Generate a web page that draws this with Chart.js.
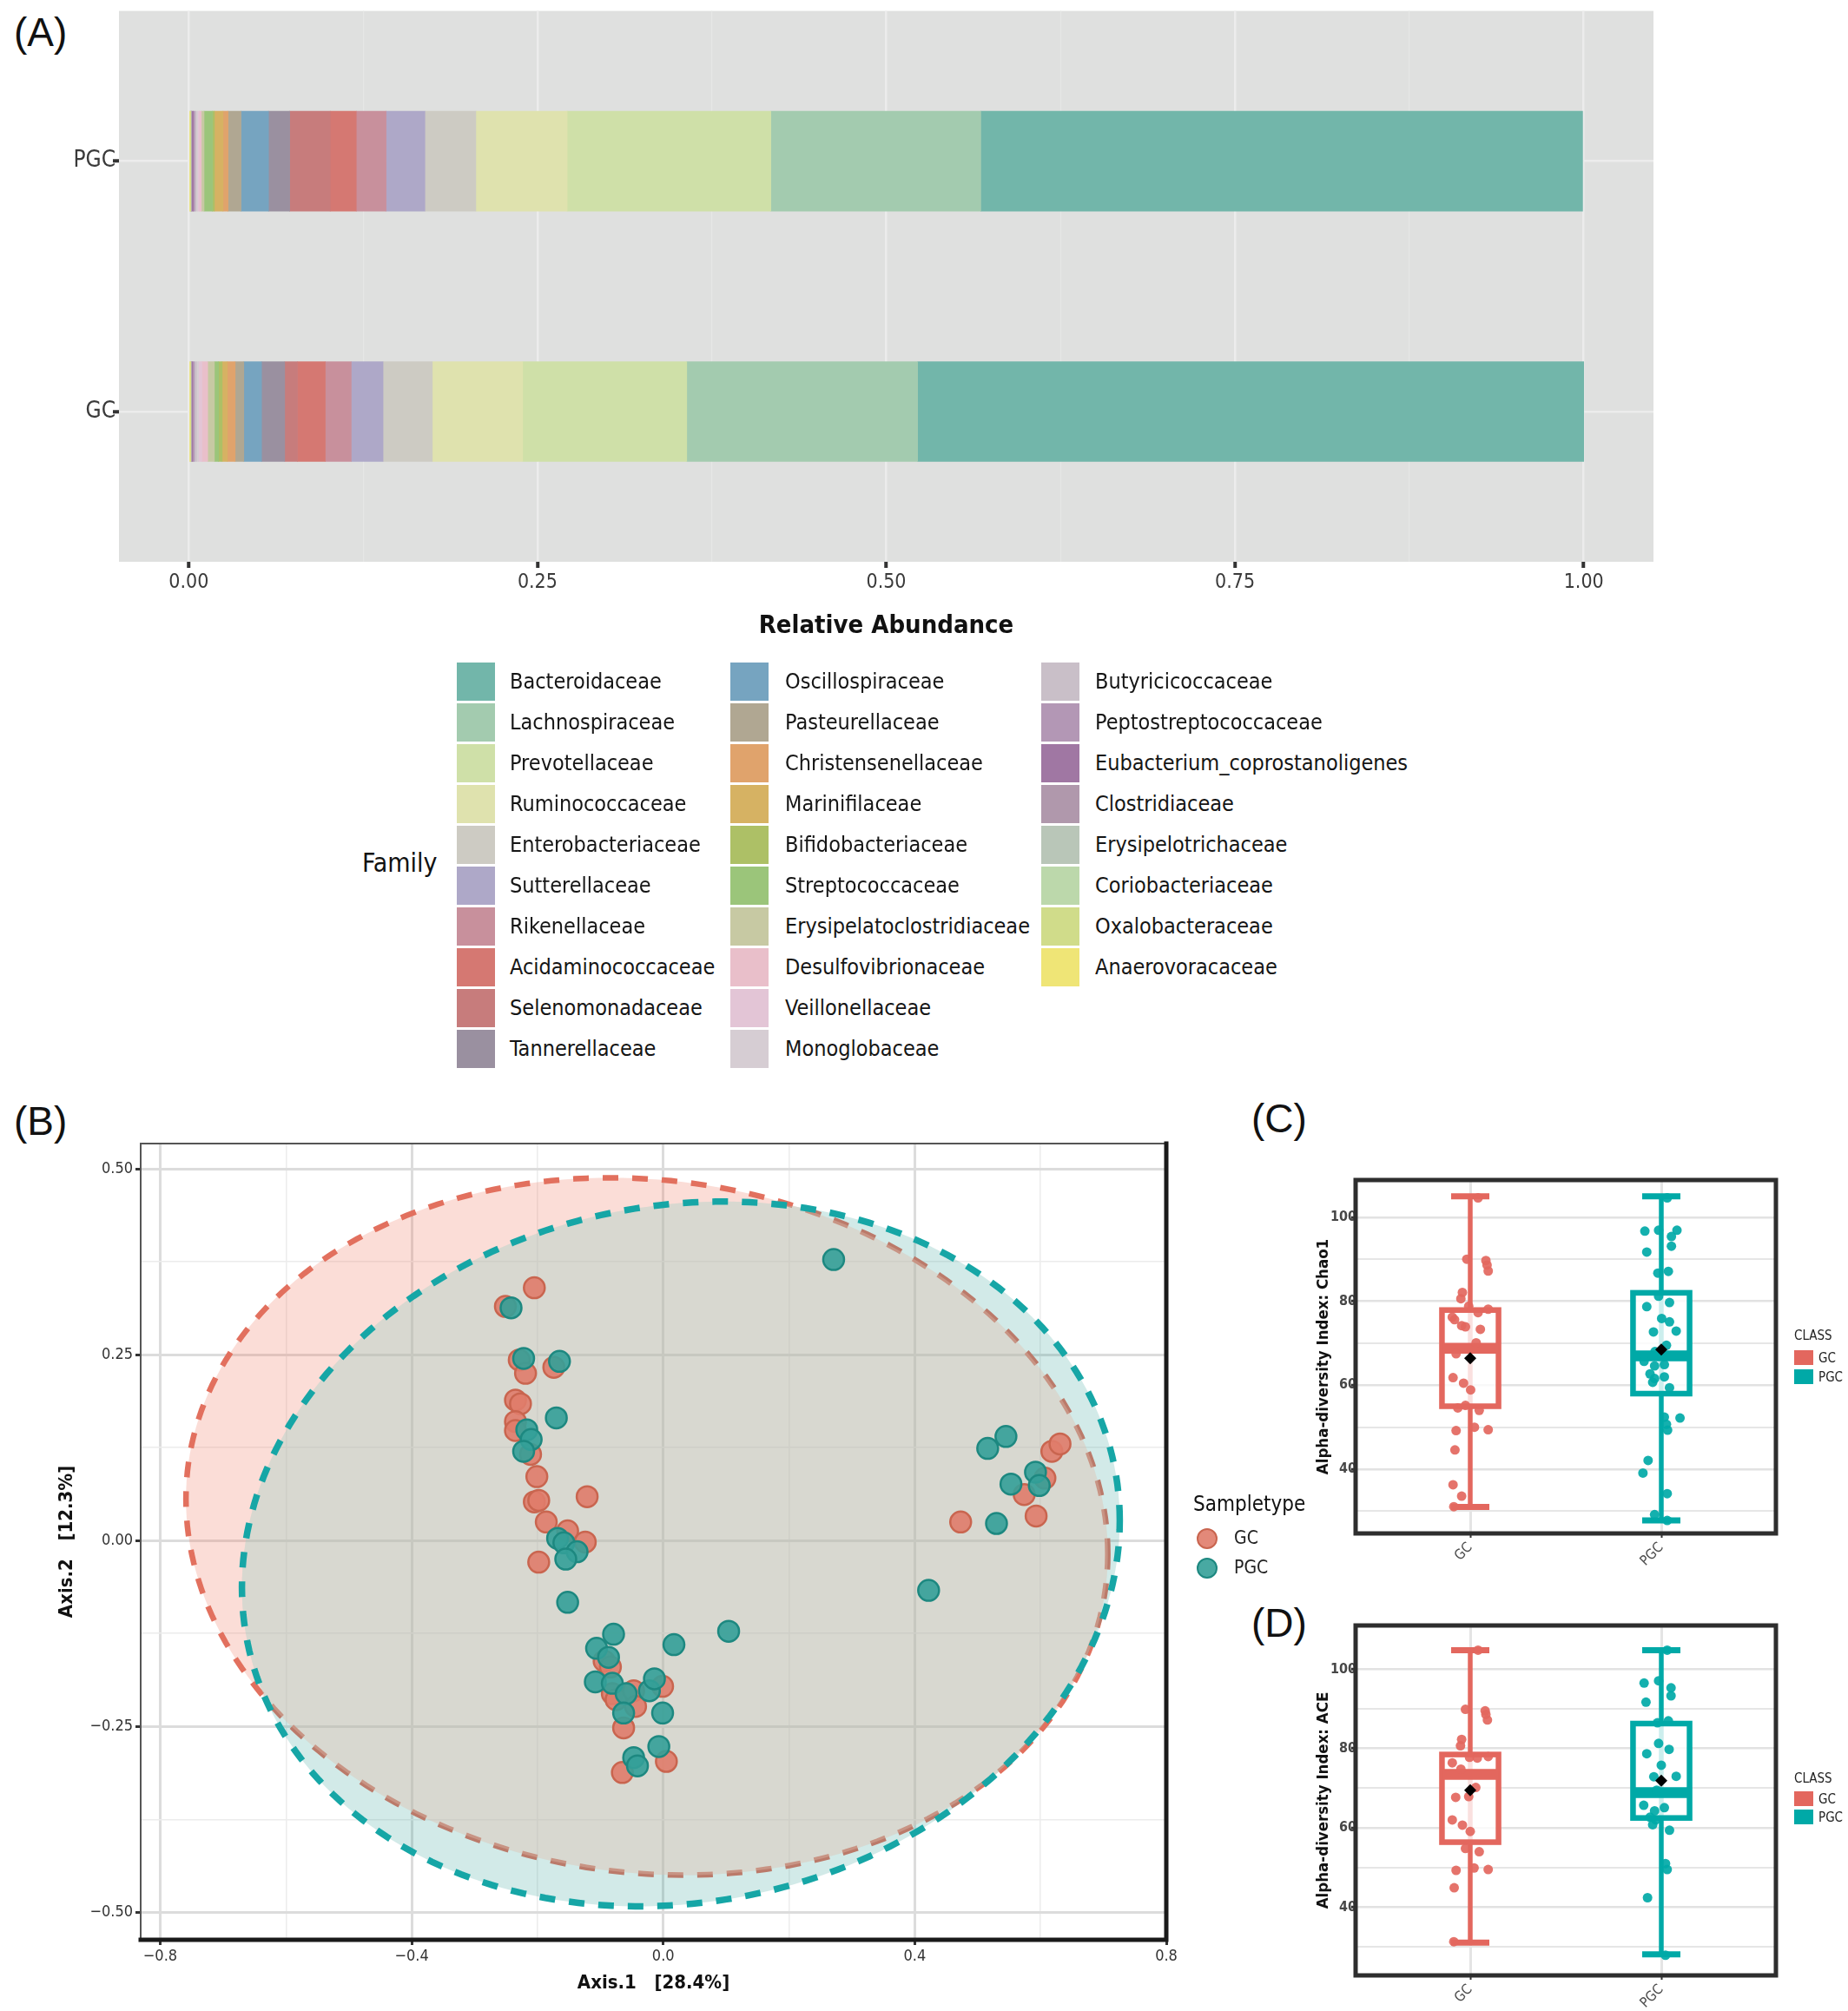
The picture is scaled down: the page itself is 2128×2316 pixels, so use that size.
<!DOCTYPE html>
<html>
<head>
<meta charset="utf-8">
<title>GC vs PGC microbiota</title>
<script src="https://cdn.jsdelivr.net/npm/chart.js@4.4.1/dist/chart.umd.min.js"></script>
<style>
  html, body { margin: 0; padding: 0; background: #fff; }
  #page { position: relative; width: 2128px; height: 2316px; overflow: hidden;
          font-family: 'Liberation Sans Narrow', 'DejaVu Sans Condensed', 'Open Sans', sans-serif; color: #1a1a1a; }
  canvas { position: absolute; }
  .tag { position: absolute; font-family: 'Liberation Sans', Arial, sans-serif; font-size: 46px; line-height: 46px; color: #111; }
  .txt { position: absolute; white-space: nowrap; }
  .sw { position: absolute; }
</style>
</head>
<body>
<div id="page">
  <div class="tag" style="left:16px;top:14px">(A)</div>
  <div class="tag" style="left:16px;top:1268px">(B)</div>
  <div class="tag" style="left:1441px;top:1265px">(C)</div>
  <div class="tag" style="left:1441px;top:1846px">(D)</div>
  <canvas id="cA" width="2128" height="770" style="left:0;top:0;width:2128px;height:770px"></canvas>
  <canvas id="cB" width="1370" height="1026" style="left:0;top:1290px;width:1370px;height:1026px"></canvas>
  <canvas id="cC" width="688" height="490" style="left:1440px;top:1330px;width:688px;height:490px"></canvas>
  <canvas id="cD" width="688" height="476" style="left:1440px;top:1840px;width:688px;height:476px"></canvas>
</div>
<script>
// ---------- (A) relative abundance, legend order ----------
const families = ['Bacteroidaceae','Lachnospiraceae','Prevotellaceae','Ruminococcaceae','Enterobacteriaceae',
  'Sutterellaceae','Rikenellaceae','Acidaminococcaceae','Selenomonadaceae','Tannerellaceae',
  'Oscillospiraceae','Pasteurellaceae','Christensenellaceae','Marinifilaceae','Bifidobacteriaceae',
  'Streptococcaceae','Erysipelatoclostridiaceae','Desulfovibrionaceae','Veillonellaceae','Monoglobaceae',
  'Butyricicoccaceae','Peptostreptococcaceae','Eubacterium_coprostanoligenes','Clostridiaceae',
  'Erysipelotrichaceae','Coriobacteriaceae','Oxalobacteraceae','Anaerovoracaceae'];
const familyColors = ['#72b6aa','#a3cbaf','#cfe0a8','#dfe2ae','#cdcbc3',
  '#aea8c8','#c8909c','#d57872','#c77c7c','#9a90a0',
  '#76a4c0','#b0a792','#e0a36c','#d6b263','#adc066',
  '#9bc57a','#c7c9a3','#e9bfca','#e3c5d6','#d6cdd3',
  '#c9bfc8','#b397b5','#a077a3','#b098ac',
  '#b9c6b8','#bcd8ab','#d0dc8a','#efe576'];
const abundGC = [0.4775,0.1655,0.1176,0.0648,0.0353,0.0228,0.0186,0.0200,0.0091,0.0166,
  0.0127,0.0062,0.0056,0.0037,0.0026,0.0030,0.0048,0.0042,0.0024,0.0015,
  0.0015,0.0012,0.0008,0.0003,0.0002,0.0002,0.0002,0.0011];
const abundPGC = [0.4314,0.1505,0.1460,0.0655,0.0365,0.0278,0.0214,0.0187,0.0290,0.0152,
  0.0197,0.0093,0.0036,0.0062,0.0014,0.0060,0.0020,0.0015,0.0012,0.0010,
  0.0010,0.0010,0.0012,0.0004,0.0002,0.0002,0.0003,0.0010];
const groups = ['GC', 'PGC'];
const abundTicks = [0, 0.25, 0.5, 0.75, 1];
const abundMinor = [0.125, 0.375, 0.625, 0.875];
const abundTickLabels = ['0.00', '0.25', '0.50', '0.75', '1.00'];

// ---------- (B) PCoA ----------
const pcoaGC = [[-0.205,0.340],[-0.251,0.315],[-0.229,0.243],[-0.219,0.225],[-0.174,0.233],[-0.235,0.189],
  [-0.227,0.184],[-0.235,0.160],[-0.235,0.148],[-0.211,0.116],[-0.201,0.086],[-0.205,0.052],[-0.198,0.054],
  [-0.121,0.059],[-0.186,0.025],[-0.152,0.013],[-0.124,-0.002],[-0.198,-0.029],[-0.094,-0.162],[-0.084,-0.170],
  [-0.081,-0.206],[-0.075,-0.214],[-0.047,-0.202],[-0.044,-0.223],[-0.001,-0.196],[-0.063,-0.252],[-0.065,-0.312],
  [0.005,-0.297],[0.473,0.025],[0.574,0.062],[0.593,0.033],[0.607,0.084],[0.618,0.120],[0.631,0.130]];
const pcoaPGC = [[0.271,0.378],[-0.242,0.313],[-0.222,0.245],[-0.165,0.241],[-0.170,0.165],[-0.217,0.149],
  [-0.210,0.136],[-0.222,0.120],[-0.168,0.003],[-0.158,-0.003],[-0.137,-0.015],[-0.155,-0.025],[-0.152,-0.083],
  [-0.079,-0.126],[-0.106,-0.145],[-0.087,-0.157],[0.017,-0.140],[0.104,-0.122],[-0.108,-0.190],[-0.081,-0.192],
  [-0.059,-0.206],[-0.022,-0.202],[-0.014,-0.186],[-0.001,-0.232],[-0.063,-0.232],[-0.007,-0.277],[-0.047,-0.292],
  [-0.041,-0.303],[0.422,-0.067],[0.516,0.124],[0.545,0.140],[0.553,0.076],[0.530,0.023],[0.592,0.092],[0.598,0.074]];
// centre x, centre y, half-width, half-height, tilt phase
const ellipseGC = [-0.026, 0.019, 0.733, 0.469, -0.079];
const ellipsePGC = [0.028, -0.018, 0.698, 0.474, 0.095];
const pcoaXTicks = [-0.8, -0.4, 0, 0.4, 0.8];
const pcoaXMinor = [-0.6, -0.2, 0.2, 0.6];
const pcoaXLabels = ['\u22120.8', '\u22120.4', '0.0', '0.4', '0.8'];
const pcoaYTicks = [-0.5, -0.25, 0, 0.25, 0.5];
const pcoaYMinor = [-0.375, -0.125, 0.125, 0.375];
const pcoaYLabels = ['\u22120.50', '\u22120.25', '0.00', '0.25', '0.50'];

// ---------- (C) Chao1, (D) ACE : [jitter, value] ----------
const chaoGC = [[0.041,104.6],[-0.018,90.0],[0.082,89.7],[0.088,88.6],[0.094,87.2],[-0.041,82.1],[-0.049,80.6],
  [-0.008,78.8],[0.041,77.3],[0.094,78.1],[-0.094,76.2],[-0.082,75.6],[-0.045,74.2],[-0.025,73.9],[0.053,73.3],
  [0.031,70.1],[-0.074,67.5],[-0.090,61.8],[-0.035,60.5],[0.002,58.9],[-0.065,54.6],[-0.025,55.2],[0.047,54.0],
  [-0.074,49.2],[0.022,50.0],[0.094,49.4],[-0.080,44.6],[-0.090,36.3],[-0.045,33.6],[-0.086,31.1]];
const chaoPGC = [[0.031,104.6],[-0.086,96.7],[-0.014,96.9],[0.082,96.9],[0.053,95.4],[0.053,93.1],[-0.076,91.7],
  [-0.018,86.7],[0.037,87.1],[-0.014,81.2],[-0.076,78.7],[0.043,79.7],[0.002,75.9],[0.043,75.1],[-0.041,72.7],
  [0.078,72.9],[0.027,69.5],[-0.033,68.0],[-0.090,65.7],[-0.035,64.6],[0.016,64.9],[-0.059,62.7],[-0.035,61.6],
  [0.016,62.0],[-0.045,60.7],[0.043,59.4],[0.016,52.4],[0.098,52.2],[0.027,50.7],[0.033,49.3],[-0.069,42.1],
  [-0.096,39.1],[0.031,34.2],[-0.035,29.2],[0.031,27.8]];
const chaoLow = [31.0, 27.8], chaoQ1 = [55.0, 58.0], chaoMed = [68.8, 67.0];
const chaoQ3 = [77.9, 82.0], chaoHigh = [105.0, 105.0], chaoMean = [66.4, 68.5];

const aceGC = [[0.041,104.8],[-0.025,89.9],[0.078,89.5],[0.082,88.6],[0.090,87.2],[-0.045,82.3],[-0.051,80.7],
  [-0.004,77.8],[0.037,77.6],[0.094,78.0],[-0.094,76.4],[-0.049,74.8],[0.029,70.2],[-0.076,67.7],[-0.008,67.9],
  [-0.094,62.0],[-0.041,60.7],[0.000,59.1],[-0.025,54.8],[0.047,54.0],[-0.074,49.3],[0.020,49.9],[0.094,49.5],
  [-0.084,44.9],[-0.086,31.3]];
const acePGC = [[0.031,104.8],[-0.090,96.5],[-0.014,97.1],[0.051,95.3],[0.051,93.3],[-0.080,91.7],[-0.020,86.5],
  [0.037,87.0],[-0.014,81.3],[-0.076,78.7],[0.041,79.8],[0.000,75.8],[-0.039,72.9],[0.078,73.0],[-0.024,69.5],
  [-0.092,65.7],[-0.035,64.3],[0.016,65.1],[-0.059,62.7],[-0.029,62.0],[-0.045,60.8],[0.043,59.4],[0.022,51.0],
  [0.031,49.5],[-0.072,42.4],[0.022,27.9]];
const aceLow = [31.1, 28.1], aceQ1 = [56.4, 62.5], aceMed = [73.5, 68.9];
const aceQ3 = [78.5, 86.3], aceHigh = [104.8, 104.8], aceMean = [69.5, 71.9];
const alphaTicks = [40, 60, 80, 100];
const alphaMinor = [30, 50, 70, 90];

// ---------- shared bits ----------
const FONT = "'Liberation Sans Narrow', 'DejaVu Sans Condensed', 'Open Sans', sans-serif";
Chart.defaults.font.family = FONT;
const RED = '#e3675e', TEAL = '#00a9a7';

const fixedTicks = values => s => { s.ticks = values.map(v => ({ value: v })); };
const isIn = (list, c) => !!(c.tick && list.includes(c.tick.value));
function gridStyle(major, majorColor, minorColor, majorW, minorW, tickLen, tickW) {
  return {
    color: c => isIn(major, c) ? majorColor : minorColor,
    lineWidth: c => isIn(major, c) ? majorW : minorW,
    tickColor: c => isIn(major, c) ? '#333' : 'rgba(0,0,0,0)',
    tickLength: tickLen, tickWidth: tickW
  };
}
const labelFrom = (list, labels) => v => { const k = list.indexOf(v); return k < 0 ? '' : labels[k]; };

// panel background + frame
Chart.register({
  id: 'panel',
  beforeDraw(chart, args, o) {
    if (!o.bg) return;
    const a = chart.chartArea, ctx = chart.ctx;
    ctx.save(); ctx.fillStyle = o.bg; ctx.fillRect(a.left, a.top, a.width, a.height); ctx.restore();
  },
  afterDraw(chart, args, o) {
    const a = chart.chartArea, ctx = chart.ctx;
    ctx.save();
    if (o.frame) {
      ctx.strokeStyle = o.frame; ctx.lineWidth = o.frameWidth;
      ctx.strokeRect(a.left, a.top, a.width, a.height);
    }
    if (o.heavy) {
      ctx.strokeStyle = o.heavy; ctx.lineWidth = o.heavyWidth; ctx.lineCap = 'square';
      ctx.beginPath(); ctx.moveTo(a.left, a.bottom); ctx.lineTo(a.right, a.bottom); ctx.lineTo(a.right, a.top); ctx.stroke();
    }
    ctx.restore();
  }
});

// ==================== (A) stacked bars ====================
const barSets = families.map((f, i) => ({
  label: f,
  data: [{ x: abundGC[i], y: 1 }, { x: abundPGC[i], y: 2 }],
  backgroundColor: familyColors[i],
  borderWidth: 0,
  barThickness: 115
})).reverse();

new Chart(document.getElementById('cA'), {
  type: 'bar',
  data: { datasets: barSets },
  options: {
    indexAxis: 'y', responsive: false, animation: false, devicePixelRatio: 1,
    layout: { padding: { top: 7, right: 224, bottom: 0, left: 0 } },
    plugins: { legend: { display: false }, tooltip: { enabled: false }, panel: { bg: '#dfe0df' } },
    scales: {
      x: {
        type: 'linear', stacked: true, min: -0.05, max: 1.05, offset: false,
        afterBuildTicks: fixedTicks(abundTicks.concat(abundMinor)),
        afterFit: s => { s.height = 123; },
        ticks: { autoSkip: false, maxRotation: 0, padding: 3, color: '#3a3a3a', font: { size: 23 },
                 callback: labelFrom(abundTicks, abundTickLabels) },
        grid: { ...gridStyle(abundTicks, '#ececec', '#e6e7e6', 2.5, 1.2, 7, 4), offset: false },
        border: { display: false },
        title: { display: true, text: 'Relative Abundance', color: '#111',
                 font: { size: 29, weight: 'bold' }, padding: { top: 0, bottom: 31 } }
      },
      y: {
        type: 'linear', stacked: true, min: 0.4, max: 2.6, offset: false,
        afterBuildTicks: fixedTicks([1, 2]),
        afterFit: s => { s.width = 137; },
        ticks: { autoSkip: false, padding: -3, color: '#3a3a3a', font: { size: 26 }, callback: v => groups[v - 1] },
        grid: { color: '#ececec', lineWidth: 2.5, tickColor: '#333', tickLength: 7, tickWidth: 4, offset: false },
        border: { display: false }
      }
    }
  }
});

// Family legend (3 columns of 10)
const page = document.getElementById('page');
function addText(text, left, cy, size, css) {
  const d = document.createElement('div');
  d.className = 'txt';
  d.textContent = text;
  d.style.cssText += `left:${left}px;top:${cy - size * 0.6}px;font-size:${size}px;line-height:${size * 1.2}px;` + (css || '');
  page.appendChild(d);
}
function addBox(left, top, w, h, css) {
  const d = document.createElement('div');
  d.className = 'sw';
  d.style.cssText = `left:${left}px;top:${top}px;width:${w}px;height:${h}px;` + css;
  page.appendChild(d);
}
addText('Family', 417, 994, 30, 'color:#111');
const swX = [526, 841, 1199], txX = [587, 904, 1261];
families.forEach((f, i) => {
  const c = Math.floor(i / 10), r = i % 10, top = 763 + r * 47;
  addBox(swX[c], top, 44, 44, `background:${familyColors[i]}`);
  addText(f, txX[c], top + 22, 25, 'color:#151515');
});

// ==================== (B) PCoA ====================
function ellipsePath(ctx, xs, ys, p) {
  const [cx, cy, rx, ry, ph] = p;
  ctx.beginPath();
  for (let k = 0; k <= 240; k++) {
    const t = k / 240 * Math.PI * 2;
    const px = xs.getPixelForValue(cx + rx * Math.cos(t));
    const py = ys.getPixelForValue(cy + ry * Math.sin(t + ph));
    if (k) ctx.lineTo(px, py); else ctx.moveTo(px, py);
  }
  ctx.closePath();
}
function strokeDashed(ctx, color, width) {
  ctx.setLineDash([18, 16]); ctx.lineWidth = width; ctx.strokeStyle = color; ctx.stroke();
  ctx.setLineDash([]);
}
const ellipsePlugin = {
  id: 'ellipses',
  beforeDatasetsDraw(chart) {
    const { ctx, chartArea: a, scales: { x, y } } = chart;
    ctx.save();
    ctx.beginPath(); ctx.rect(a.left, a.top, a.width, a.height); ctx.clip();
    // GC region + outline
    ellipsePath(ctx, x, y, ellipseGC);
    ctx.fillStyle = 'rgba(240,122,102,0.26)'; ctx.fill();
    strokeDashed(ctx, '#e2705e', 6.5);
    // PGC region over it
    ellipsePath(ctx, x, y, ellipsePGC);
    ctx.fillStyle = 'rgba(48,160,152,0.22)'; ctx.fill();
    // the overlap reads a little lighter in the original
    ctx.save();
    ellipsePath(ctx, x, y, ellipseGC); ctx.clip();
    ellipsePath(ctx, x, y, ellipsePGC);
    ctx.fillStyle = 'rgba(255,255,240,0.2)'; ctx.fill();
    ctx.restore();
    ellipsePath(ctx, x, y, ellipsePGC);
    strokeDashed(ctx, '#16a6a6', 7.5);
    ctx.restore();
  }
};

new Chart(document.getElementById('cB'), {
  type: 'scatter',
  data: { datasets: [
    { label: 'GC', data: pcoaGC.map(p => ({ x: p[0], y: p[1] })), order: 2,
      backgroundColor: 'rgba(224,124,106,0.9)', borderColor: '#c9654f', borderWidth: 2.5, pointRadius: 12 },
    { label: 'PGC', data: pcoaPGC.map(p => ({ x: p[0], y: p[1] })), order: 1,
      backgroundColor: 'rgba(52,160,152,0.9)', borderColor: '#1d8880', borderWidth: 2.5, pointRadius: 12 }
  ] },
  options: {
    responsive: false, animation: false, devicePixelRatio: 1,
    layout: { padding: { top: 27, right: 27, bottom: 0, left: 0 } },
    plugins: { legend: { display: false }, tooltip: { enabled: false },
               panel: { bg: '#ffffff', frame: '#555', frameWidth: 2, heavy: '#1a1a1a', heavyWidth: 5 } },
    scales: {
      x: {
        type: 'linear', min: -0.831, max: 0.8,
        afterBuildTicks: fixedTicks(pcoaXTicks.concat(pcoaXMinor)),
        afterFit: s => { s.height = 82; },
        ticks: { autoSkip: false, maxRotation: 0, padding: 3, color: '#333', font: { size: 18 },
                 callback: labelFrom(pcoaXTicks, pcoaXLabels) },
        grid: gridStyle(pcoaXTicks, '#dcdcdc', '#ececec', 3, 1.5, 6, 3),
        border: { display: false },
        title: { display: true, text: 'Axis.1   [28.4%]', color: '#111', font: { size: 22, weight: 'bold' },
                 padding: { top: 0, bottom: 19 } }
      },
      y: {
        type: 'linear', min: -0.537, max: 0.534,
        afterBuildTicks: fixedTicks(pcoaYTicks.concat(pcoaYMinor)),
        afterFit: s => { s.width = 162; },
        ticks: { autoSkip: false, padding: 3, color: '#333', font: { size: 18 },
                 callback: labelFrom(pcoaYTicks, pcoaYLabels) },
        grid: gridStyle(pcoaYTicks, '#dcdcdc', '#ececec', 3, 1.5, 6, 3),
        border: { display: false },
        title: { display: true, text: 'Axis.2   [12.3%]', color: '#111', font: { size: 22, weight: 'bold' },
                 padding: { top: 64, bottom: 0 } }
      }
    }
  },
  plugins: [ellipsePlugin]
});

addText('Sampletype', 1374, 1732, 24, 'color:#111');
addBox(1378, 1760, 24, 24, 'border-radius:50%;box-sizing:border-box;background:rgba(224,124,106,0.9);border:2.5px solid #c9654f');
addBox(1378, 1794, 24, 24, 'border-radius:50%;box-sizing:border-box;background:rgba(52,160,152,0.9);border:2.5px solid #1d8880');
addText('GC', 1421, 1772, 21, 'color:#222');
addText('PGC', 1421, 1806, 21, 'color:#222');

// ==================== (C)/(D) boxplots ====================
function alphaChart(id, gcPts, pgcPts, low, q1, med, q3, high, mean, yMin, yMax, padTop, xAxisH, title) {
  const boxColors = [RED, TEAL];
  const boxPlugin = {
    id: 'box_' + id,
    beforeDatasetsDraw(chart) {
      const { ctx, scales: { x, y } } = chart;
      ctx.save();
      groups.forEach((g, i) => {
        const xc = x.getPixelForValue(i);
        const capL = x.getPixelForValue(i - 0.1), capR = x.getPixelForValue(i + 0.1);
        const bL = x.getPixelForValue(i - 0.148), bR = x.getPixelForValue(i + 0.148);
        const yHi = y.getPixelForValue(high[i]), yLo = y.getPixelForValue(low[i]);
        const yQ1 = y.getPixelForValue(q1[i]), yQ3 = y.getPixelForValue(q3[i]), yMed = y.getPixelForValue(med[i]);
        ctx.strokeStyle = boxColors[i]; ctx.lineCap = 'butt';
        ctx.lineWidth = 5.5;
        ctx.beginPath(); ctx.moveTo(xc, yHi); ctx.lineTo(xc, yLo); ctx.stroke();
        ctx.lineWidth = 7;
        ctx.beginPath(); ctx.moveTo(capL, yHi); ctx.lineTo(capR, yHi); ctx.moveTo(capL, yLo); ctx.lineTo(capR, yLo); ctx.stroke();
        ctx.fillStyle = 'rgba(255,255,255,0.8)';
        ctx.fillRect(bL, yQ3, bR - bL, yQ1 - yQ3);
        ctx.lineWidth = 6.5; ctx.strokeRect(bL, yQ3, bR - bL, yQ1 - yQ3);
        ctx.lineWidth = 12.5;
        ctx.beginPath(); ctx.moveTo(bL, yMed); ctx.lineTo(bR, yMed); ctx.stroke();
      });
      ctx.restore();
    }
  };
  new Chart(document.getElementById(id), {
    type: 'scatter',
    data: { datasets: [
      { label: 'mean', data: mean.map((m, i) => ({ x: i, y: m })), order: 0,
        pointStyle: 'rectRot', pointRadius: 7, backgroundColor: '#000', borderWidth: 0 },
      { label: 'GC', data: gcPts.map(p => ({ x: p[0], y: p[1] })), order: 1,
        backgroundColor: 'rgba(227,103,94,0.92)', borderWidth: 0, pointRadius: 5.5 },
      { label: 'PGC', data: pgcPts.map(p => ({ x: 1 + p[0], y: p[1] })), order: 1,
        backgroundColor: 'rgba(0,169,167,0.92)', borderWidth: 0, pointRadius: 5.5 }
    ] },
    options: {
      responsive: false, animation: false, devicePixelRatio: 1,
      layout: { padding: { top: padTop, right: 83, bottom: 0, left: 0 } },
      plugins: { legend: { display: false }, tooltip: { enabled: false },
                 panel: { bg: '#ffffff', frame: '#2e2e2e', frameWidth: 5 } },
      scales: {
        x: {
          type: 'linear', min: -0.6, max: 1.6,
          afterBuildTicks: fixedTicks([0, 1]),
          afterFit: s => { s.height = xAxisH; },
          ticks: { autoSkip: false, minRotation: 45, maxRotation: 45, padding: 2, color: '#4d4d4d',
                   font: { size: 16 }, callback: v => groups[v] },
          grid: { color: '#e4e4e4', lineWidth: 3, tickColor: '#333', tickLength: 5, tickWidth: 2 },
          border: { display: false }
        },
        y: {
          type: 'linear', min: yMin, max: yMax,
          afterBuildTicks: fixedTicks(alphaTicks.concat(alphaMinor)),
          afterFit: s => { s.width = 121; },
          ticks: { autoSkip: false, padding: -6, color: '#474747', font: { size: 16, weight: 'bold' },
                   callback: labelFrom(alphaTicks, alphaTicks.map(String)) },
          grid: gridStyle(alphaTicks, '#e2e2e2', '#e6e6e6', 2.5, 2, 5, 3),
          border: { display: false },
          title: { display: true, text: title, color: '#111', font: { size: 18.5, weight: 'bold' },
                   padding: { top: 73, bottom: 0 } }
        }
      }
    },
    plugins: [boxPlugin]
  });
}
alphaChart('cC', chaoGC, chaoPGC, chaoLow, chaoQ1, chaoMed, chaoQ3, chaoHigh, chaoMean,
           24.72, 108.85, 29, 54, 'Alpha-diversity Index: Chao1');
alphaChart('cD', aceGC, acePGC, aceLow, aceQ1, aceMed, aceQ3, aceHigh, aceMean,
           22.81, 111.03, 32, 41, 'Alpha-diversity Index: ACE');

// CLASS legends
[[1538, 1555, 1577], [2048, 2063, 2084]].forEach(([ty, r1, r2]) => {
  addText('CLASS', 2066, ty, 15, 'color:#222');
  addBox(2066, r1, 22, 17, `background:${RED}`);
  addBox(2066, r2, 22, 17, `background:${TEAL}`);
  addText('GC', 2094, r1 + 8.5, 15, 'color:#222');
  addText('PGC', 2094, r2 + 8.5, 15, 'color:#222');
});
</script>
</body>
</html>
